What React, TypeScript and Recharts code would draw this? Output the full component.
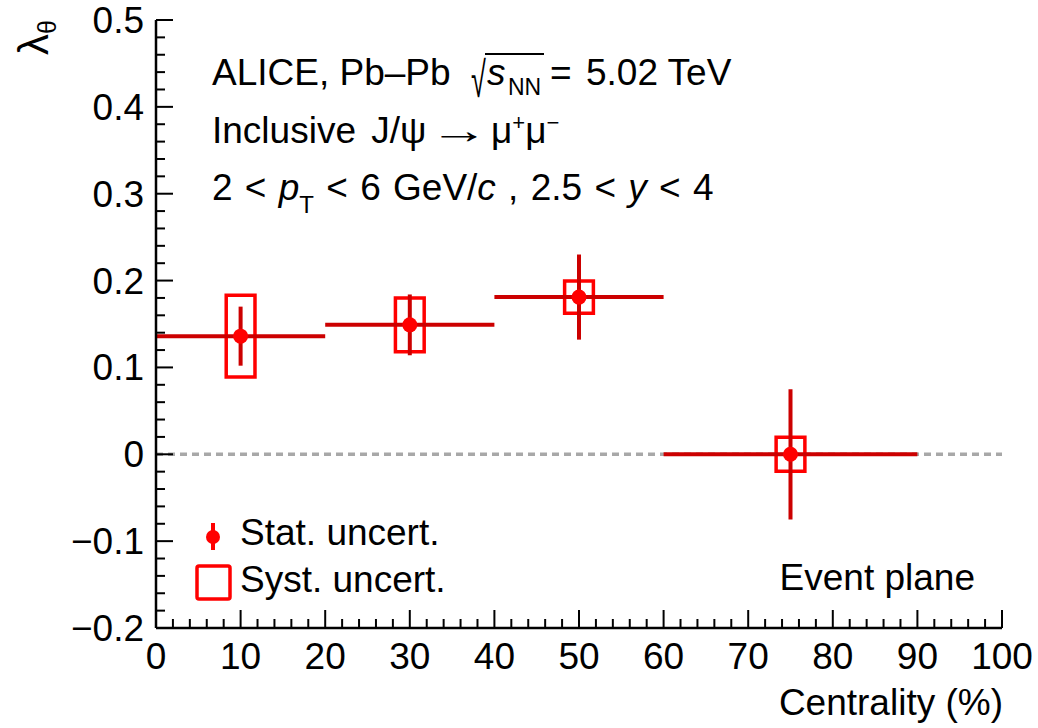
import { ScatterChart, Scatter, XAxis, YAxis, ErrorBar, ReferenceArea, ReferenceLine } from 'recharts';

// lambda_theta vs centrality, event plane frame
const CENTRALITY = [10, 30, 50, 75];
const BIN_HALF_WIDTH = [10, 10, 10, 15];
const LAMBDA_THETA = [0.136, 0.149, 0.181, 0.0];
const STAT_UNCERT = [0.034, 0.035, 0.049, 0.075];
const SYST_UNCERT = [0.047, 0.031, 0.0185, 0.0195];

const X_MAJOR_TICKS = [0, 10, 20, 30, 40, 50, 60, 70, 80, 90, 100];
const Y_MAJOR_TICKS = [-0.2, -0.1, 0, 0.1, 0.2, 0.3, 0.4, 0.5];
const MINOR_DIVISIONS = 5;

const SYST_BOX_HALF_WIDTH = 1.7;
const FONT = '"Liberation Sans", Arial, Helvetica, sans-serif';
const DARK_RED = '#cc0000';
const RED = '#ff0000';

const points = CENTRALITY.map((x, i) => ({
  x,
  y: LAMBDA_THETA[i],
  binHalf: BIN_HALF_WIDTH[i],
  stat: STAT_UNCERT[i],
  syst: SYST_UNCERT[i],
}));

// major ticks plus the minor ones in between
function withMinor(majors: number[]) {
  const out: number[] = [];
  for (let i = 0; i < majors.length - 1; i++) {
    const step = (majors[i + 1] - majors[i]) / MINOR_DIVISIONS;
    for (let k = 0; k < MINOR_DIVISIONS; k++) {
      out.push(Math.round((majors[i] + k * step) * 1000) / 1000);
    }
  }
  out.push(majors[majors.length - 1]);
  return out;
}

const X_TICKS = withMinor(X_MAJOR_TICKS);
const Y_TICKS = withMinor(Y_MAJOR_TICKS);

const isMajor = (v: number, majors: number[]) => majors.some((m) => Math.abs(m - v) < 1e-6);

const fmtY = (v: number) => {
  if (Math.abs(v) < 1e-9) return '0';
  return v < 0 ? `\u2212${Math.abs(v).toFixed(1)}` : v.toFixed(1);
};

const tickLine = { stroke: '#000', strokeWidth: 2 };

function BottomTick({ x, y, payload }: any) {
  const major = isMajor(payload.value, X_MAJOR_TICKS);
  return (
    <g>
      <line x1={x} x2={x} y1={y} y2={y - (major ? 18 : 9)} {...tickLine} />
      {major && (
        <text x={x} y={y + 41} textAnchor="middle" fontSize={37} fontFamily={FONT} fill="#000">
          {payload.value}
        </text>
      )}
    </g>
  );
}

function TopTick({ x, y, payload }: any) {
  const major = isMajor(payload.value, X_MAJOR_TICKS);
  return <line x1={x} x2={x} y1={y} y2={y + (major ? 18 : 9)} {...tickLine} />;
}

function LeftTick({ x, y, payload }: any) {
  const major = isMajor(payload.value, Y_MAJOR_TICKS);
  return (
    <g>
      <line x1={x} x2={x + (major ? 17 : 9)} y1={y} y2={y} {...tickLine} />
      {major && (
        <text x={x - 12} y={y + 13} textAnchor="end" fontSize={37} fontFamily={FONT} fill="#000">
          {fmtY(payload.value)}
        </text>
      )}
    </g>
  );
}

function RightTick({ x, y, payload }: any) {
  const major = isMajor(payload.value, Y_MAJOR_TICKS);
  return <line x1={x} x2={x - (major ? 17 : 9)} y1={y} y2={y} {...tickLine} />;
}

const Marker = ({ cx, cy }: any) => <circle cx={cx} cy={cy} r={7.5} fill={RED} />;

function Annotations() {
  return (
    <svg
      width={1038}
      height={728}
      style={{ position: 'absolute', left: 0, top: 0, pointerEvents: 'none' }}
      fontFamily={FONT}
      fill="#000"
    >
      {/* y axis title */}
      <text transform="translate(48,20) rotate(-90)" textAnchor="end" fontSize={42}>
        λ<tspan fontSize={25} dy={8}>θ</tspan>
      </text>

      <text x={1003} y={715} textAnchor="end" fontSize={37}>Centrality (%)</text>

      {/* line 1 */}
      <text x={212} y={85} fontSize={37}>ALICE, Pb–Pb</text>
      <text transform="translate(471,97) scale(0.75,1.38)" fontSize={36}>√</text>
      <line x1={485} x2={544} y1={54} y2={54} stroke="#000" strokeWidth={2} />
      <text x={487} y={85} fontSize={37} fontStyle="italic">s</text>
      <text x={508} y={95} fontSize={23}>NN</text>
      <text y={85} fontSize={37}>
        <tspan x={550}>=</tspan>
        <tspan x={586}>5.02 TeV</tspan>
      </text>

      {/* line 2 */}
      <text x={212} y={143} fontSize={37} wordSpacing={5}>Inclusive J/ψ</text>
      <text transform="translate(429,143) scale(1.6,1)" fontSize={37}>→</text>
      <text x={491} y={143} fontSize={37}>
        μ<tspan fontSize={22} dy={-13}>+</tspan>
        <tspan fontSize={37} dy={13}>μ</tspan>
        <tspan fontSize={22} dy={-13}>−</tspan>
      </text>

      {/* line 3 */}
      <text x={212} y={200} fontSize={37} wordSpacing={2}>
        2 &lt; <tspan fontStyle="italic">p</tspan>
        <tspan fontSize={24} dy={13}>T</tspan>
        <tspan dy={-13}> &lt; 6 GeV/</tspan>
        <tspan fontStyle="italic">c</tspan>
        <tspan> , 2.5 &lt; </tspan>
        <tspan fontStyle="italic">y</tspan>
        <tspan> &lt; 4</tspan>
      </text>

      {/* legend */}
      <line x1={213} x2={213} y1={523} y2={550} stroke={RED} strokeWidth={4} />
      <circle cx={213} cy={537} r={7} fill={RED} />
      <text x={240} y={545} fontSize={37}>Stat. uncert.</text>
      <rect x={197} y={566} width={33} height={33} rx={2} fill="none" stroke={RED} strokeWidth={3.5} />
      <text x={240} y={592} fontSize={37}>Syst. uncert.</text>

      <text x={975} y={590} textAnchor="end" fontSize={37}>Event plane</text>
    </svg>
  );
}

export default function App() {
  return (
    <div style={{ position: 'absolute', left: 0, top: 0, width: 1038, height: 728, background: '#fff' }}>
      <ScatterChart width={1038} height={728} margin={{ top: 20, right: 36, bottom: 0, left: 0 }}>
        <XAxis
          xAxisId="b"
          type="number"
          dataKey="x"
          domain={[0, 100]}
          ticks={X_TICKS}
          interval={0}
          height={100}
          tickSize={0}
          tickMargin={0}
          tickLine={false}
          axisLine={{ stroke: '#000', strokeWidth: 2.5 }}
          tick={BottomTick}
          allowDataOverflow
        />
        <XAxis
          xAxisId="t"
          orientation="top"
          type="number"
          domain={[0, 100]}
          ticks={X_TICKS}
          interval={0}
          height={0}
          tickSize={0}
          tickMargin={0}
          tickLine={false}
          axisLine={{ stroke: '#000', strokeWidth: 2.5 }}
          tick={TopTick}
          allowDataOverflow
        />
        <YAxis
          yAxisId="l"
          type="number"
          dataKey="y"
          domain={[-0.2, 0.5]}
          ticks={Y_TICKS}
          interval={0}
          width={156}
          tickSize={0}
          tickMargin={0}
          tickLine={false}
          axisLine={{ stroke: '#000', strokeWidth: 2.5 }}
          tick={LeftTick}
          allowDataOverflow
        />
        <YAxis
          yAxisId="r"
          orientation="right"
          type="number"
          domain={[-0.2, 0.5]}
          ticks={Y_TICKS}
          interval={0}
          width={0}
          tickSize={0}
          tickMargin={0}
          tickLine={false}
          axisLine={{ stroke: '#000', strokeWidth: 2.5 }}
          tick={RightTick}
          allowDataOverflow
        />

        <ReferenceLine
          xAxisId="b"
          yAxisId="l"
          y={0}
          stroke="#a8a8a8"
          strokeWidth={3.5}
          strokeDasharray="7 5"
          zIndex={-50}
        />

        {points.map((p) => (
          <ReferenceArea
            key={p.x}
            xAxisId="b"
            yAxisId="l"
            x1={p.x - SYST_BOX_HALF_WIDTH}
            x2={p.x + SYST_BOX_HALF_WIDTH}
            y1={p.y - p.syst}
            y2={p.y + p.syst}
            fill="none"
            fillOpacity={0}
            stroke={RED}
            strokeWidth={3.5}
            strokeOpacity={1}
            zIndex={-40}
          />
        ))}

        <Scatter
          xAxisId="b"
          yAxisId="l"
          data={points}
          shape={Marker}
          isAnimationActive={false}
        >
          <ErrorBar dataKey="binHalf" direction="x" width={0} stroke={DARK_RED} strokeWidth={4} isAnimationActive={false} />
          <ErrorBar dataKey="stat" direction="y" width={0} stroke={DARK_RED} strokeWidth={4} isAnimationActive={false} />
        </Scatter>
      </ScatterChart>
      <Annotations />
    </div>
  );
}
